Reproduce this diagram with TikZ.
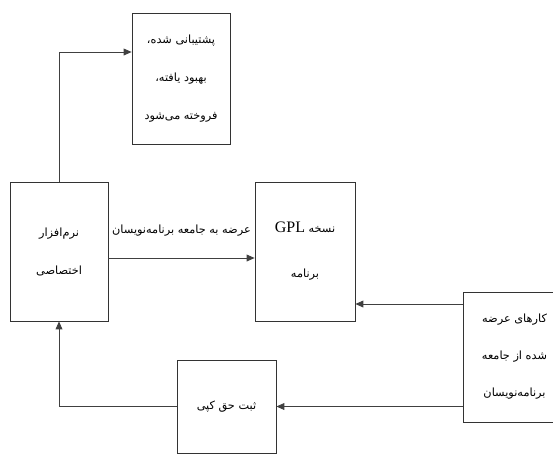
\documentclass[tikz,border=0pt]{standalone}
\usepackage{fontspec}
\setmainfont{Liberation Serif}
\newfontfamily\fafont[Script=Arabic]{DejaVu Sans}
\TeXXeTstate=1
\usetikzlibrary{arrows.meta,positioning,calc}
\newcommand{\fa}[1]{{\fafont\beginR #1\endR}}
\tikzset{
    box/.style={draw=black!80,line width=0.8pt,align=center,inner sep=0pt,
        font=\fontsize{11.3pt}{38pt}\selectfont},
    arrow/.style={-{Triangle[length=2.8mm,width=2.4mm]},draw=black!75,line width=0.8pt},
    link/.style={draw=black!70,line width=0.8pt}
}
\begin{document}
\begin{tikzpicture}[x=1pt,y=-1pt]
    \useasboundingbox (0,0) rectangle (553,455);
    \clip (0,0) rectangle (553,455);
    \node[box,minimum width=98pt,minimum height=131pt] (backup) at (181,78.5)
        {\fa{پشتیبانی شده،}\\\fa{بهبود یافته،}\\\fa{فروخته می^^^^200cشود}};
    \node[box,minimum width=98pt,minimum height=139pt] (prop) at (59,251.5)
        {\fa{نرم^^^^200cافزار}\\\fa{اختصاصی}};
    \node[box,minimum width=100pt,minimum height=139pt,
        font=\fontsize{11.3pt}{45pt}\selectfont] (gpl) at (305,251.5)
        {\fa{نسخه {\fontsize{16pt}{16pt}\selectfont\rmfamily\beginL GPL\endL}}\\\fa{برنامه}};
    \node[box,minimum width=103pt,minimum height=130pt,
        font=\fontsize{11.3pt}{37pt}\selectfont] (contrib) at (514.5,357)
        {\fa{کارهای عرضه}\\\fa{شده از جامعه}\\\fa{برنامه^^^^200cنویسان}};
    \node[box,minimum width=99pt,minimum height=93pt] (copy) at (226.5,406.5)
        {\fa{ثبت حق کپی}};
    % connectors
    \draw[arrow] (prop.north) |- ([yshift=26.5pt]backup.west);
    \draw[arrow] ([yshift=-6.5pt]prop.east) -- ([yshift=-6.5pt]prop.east -| gpl.west)
        node[midway,above=18pt,font=\fontsize{11.3pt}{13pt}\selectfont] (offer) {\fa{عرضه به جامعه برنامه^^^^200cنویسان}};
    \draw[arrow] ([yshift=53pt]contrib.west) -- ([yshift=53pt]contrib.west -| gpl.east);
    \draw[arrow] (contrib.west |- copy.east) -- (copy.east);
    \draw[arrow] (copy.west) -| (prop.south);
\end{tikzpicture}
\end{document}
